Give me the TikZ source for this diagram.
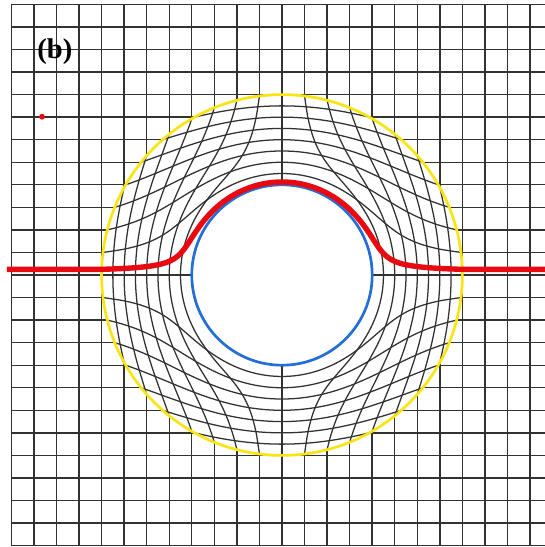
\documentclass[tikz,border=0pt]{standalone}
\usepackage{fontspec}
\setmainfont{Liberation Serif}
\definecolor{rayred}{RGB}{232,10,16}
\definecolor{cloakyellow}{RGB}{250,228,20}
\definecolor{innerblue}{RGB}{35,110,215}
\definecolor{gridgray}{RGB}{50,50,50}
\begin{document}
\begin{tikzpicture}[x=1cm,y=1cm,
  gridline/.style={line width=1.75pt, draw=gridgray},
  mapline/.style={line width=1.6pt, draw=gridgray},
  ray/.style={line width=6.8pt, draw=rayred, line join=round},
  outercirc/.style={line width=3.4pt, draw=cloakyellow},
  innercirc/.style={line width=3.4pt, draw=innerblue}]
\fill[white] (-12.505,-12.062) rectangle (11.663,12.195);
\useasboundingbox (-12.505,-12.062) rectangle (11.663,12.195);
% straight grid outside the cloak
\foreach \k in {-12,...,11} {
  \ifnum\numexpr\k*\k\relax<64
    \pgfmathsetmacro{\h}{sqrt(64-\k*\k)}
    \draw[gridline] (\k,12) -- (\k,\h);
    \draw[gridline] (\k,-\h) -- (\k,-12);
  \else
    \draw[gridline] (\k,12) -- (\k,-12);
  \fi
}
\foreach \j in {-12,...,12} {
  \ifnum\numexpr\j*\j\relax<64
    \pgfmathsetmacro{\h}{sqrt(64-\j*\j)}
    \draw[gridline] (-12,\j) -- (-\h,\j);
    \draw[gridline] (\h,\j) -- (11.7,\j);
  \else
    \draw[gridline] (-12,\j) -- (11.7,\j);
  \fi
}
% transformed grid inside the cloak
\foreach \m in {1,...,7} {
  \pgfmathsetmacro{\tm}{acos(\m/8)}
  \draw[mapline] plot[domain=-\tm:\tm, samples=90, smooth, variable=\t]
    ({4*cos(\t)+\m/2}, {4*sin(\t)+\m/2*tan(\t)});
  \draw[mapline] plot[domain=-\tm:\tm, samples=90, smooth, variable=\t]
    ({-4*cos(\t)-\m/2}, {4*sin(\t)+\m/2*tan(\t)});
  \draw[mapline] plot[domain=-\tm:\tm, samples=90, smooth, variable=\t]
    ({4*sin(\t)+\m/2*tan(\t)}, {4*cos(\t)+\m/2});
  \draw[mapline] plot[domain=-\tm:\tm, samples=90, smooth, variable=\t]
    ({4*sin(\t)+\m/2*tan(\t)}, {-4*cos(\t)-\m/2});
}
\draw[mapline] (0,4) -- (0,8);
\draw[mapline] (0,-4) -- (0,-8);
\draw[mapline] (4,0) -- (8,0);
\draw[mapline] (-4,0) -- (-8,0);
% circles
\node[circle, minimum size=16cm, inner sep=0pt, outercirc] (outer) at (0,0) {};
\node[circle, minimum size=8cm, inner sep=0pt, innercirc] (inner) at (0,0) {};
% ray
\coordinate (rayin) at (-12.2,0.25);
\coordinate (rayout) at (11.7,0.25);
\pgfmathsetmacro{\tr}{acos(0.25/8)}
\draw[ray] (rayin) -- (-8,0.25) -- plot[domain=-\tr:\tr, samples=500, smooth, variable=\t]
    ({4*sin(\t)+0.125*tan(\t)}, {4*cos(\t)+0.125}) -- (rayout);
% source dot
\fill[rayred] (-10.64,7.02) circle (0.13);
% label
\node[font=\fontsize{36}{40}\selectfont\bfseries, inner sep=0pt] (lbl) at (-10.07,9.89) {(b)};
\end{tikzpicture}
\end{document}
